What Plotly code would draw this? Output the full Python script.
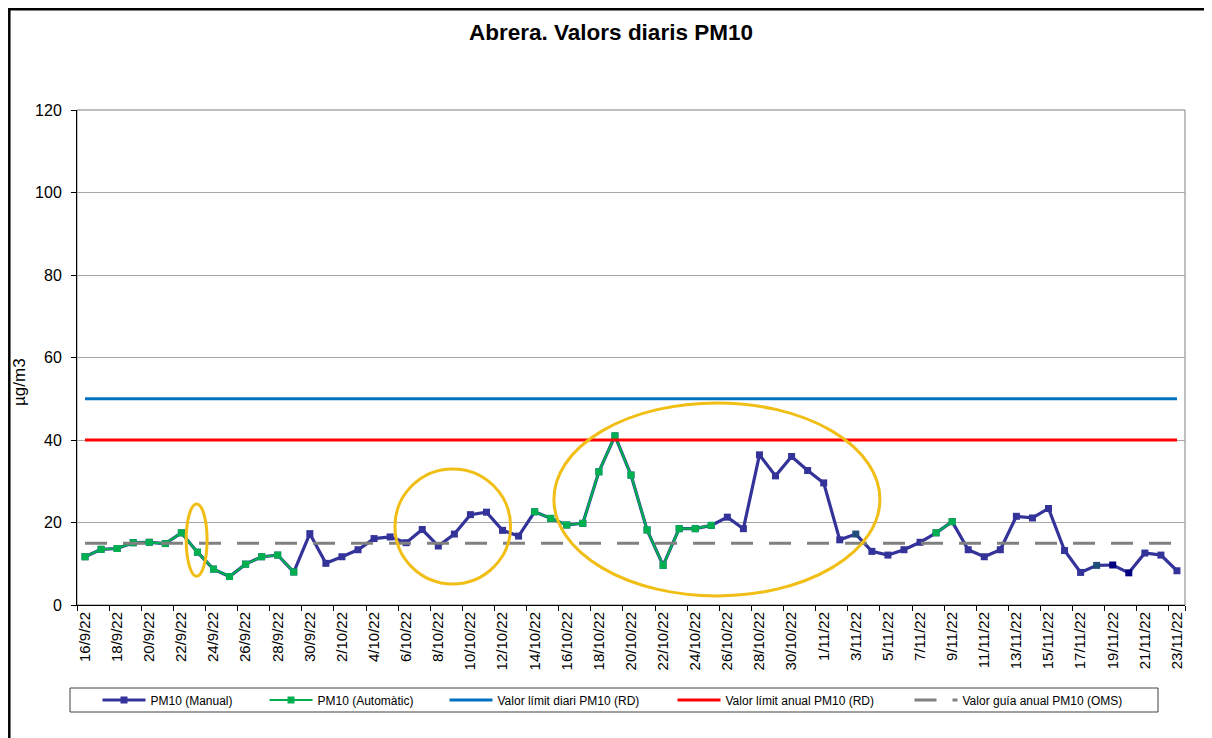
import plotly.graph_objects as go

# ---------------- data ----------------
DATES = [
    "16/9/22", "17/9/22", "18/9/22", "19/9/22", "20/9/22", "21/9/22", "22/9/22", "23/9/22",
    "24/9/22", "25/9/22", "26/9/22", "27/9/22", "28/9/22", "29/9/22", "30/9/22",
    "1/10/22", "2/10/22", "3/10/22", "4/10/22", "5/10/22", "6/10/22", "7/10/22", "8/10/22",
    "9/10/22", "10/10/22", "11/10/22", "12/10/22", "13/10/22", "14/10/22", "15/10/22",
    "16/10/22", "17/10/22", "18/10/22", "19/10/22", "20/10/22", "21/10/22", "22/10/22",
    "23/10/22", "24/10/22", "25/10/22", "26/10/22", "27/10/22", "28/10/22", "29/10/22",
    "30/10/22", "31/10/22",
    "1/11/22", "2/11/22", "3/11/22", "4/11/22", "5/11/22", "6/11/22", "7/11/22", "8/11/22",
    "9/11/22", "10/11/22", "11/11/22", "12/11/22", "13/11/22", "14/11/22", "15/11/22",
    "16/11/22", "17/11/22", "18/11/22", "19/11/22", "20/11/22", "21/11/22", "22/11/22",
    "23/11/22",
]

PM10_MANUAL = [
    11.7, 13.5, 13.7, 15.1, 15.2, 14.9, 17.5, 12.8, 8.7, 6.9, 9.9, 11.7, 12.1, 8.0, 17.3,
    10.1, 11.7, 13.4, 16.1, 16.5, 15.1, 18.3, 14.3, 17.2, 21.9, 22.5, 18.1, 16.7, 22.6, 21.0,
    19.4, 19.8, 32.3, 41.0, 31.5, 18.2, 9.6, 18.5, 18.5, 19.3, 21.3, 18.5, 36.4, 31.3, 36.0,
    32.6,
    29.6, 15.8, 17.2, 13.0, 12.1, 13.4, 15.2, 17.5, 20.2, 13.4, 11.7, 13.4, 21.5, 21.1, 23.4,
    13.2, 7.9, 9.6, 9.7, 7.8, 12.6, 12.1, 8.3,
]

PM10_AUTO = [
    11.7, 13.5, 13.7, 15.1, 15.2, 14.9, 17.5, 12.8, 8.7, 6.9, 9.9, 11.7, 12.1, 8.0, None,
    None, None, None, None, None, None, None, None, None, None, None, None, None, 22.6, 21.0,
    19.4, 19.8, 32.3, 41.0, 31.5, 18.2, 9.6, 18.5, 18.5, 19.3, None, None, None, None, None,
    None,
    None, None, None, None, None, None, None, 17.5, 20.2, None, None, None, None, None, None,
    None, None, None, None, None, None, None, None,
]

LIMIT_DAILY_RD = 50
LIMIT_ANNUAL_RD = 40
GUIDE_ANNUAL_OMS = 15

Y_TICKS = [0, 20, 40, 60, 80, 100, 120]
TITLE = "Abrera. Valors diaris PM10"
Y_TITLE = "µg/m3"
NAMES = [
    "PM10 (Manual)",
    "PM10 (Automàtic)",
    "Valor límit diari PM10 (RD)",
    "Valor límit anual PM10 (RD)",
    "Valor guía anual PM10 (OMS)",
]

# ---------------- layout helpers ----------------
# The page body has an 8px margin, so the figure is drawn 8px in from the
# window corner; all page-pixel positions below are converted accordingly.
OFF = 8
PAGE_W, PAGE_H = 1212, 738
W, H = PAGE_W - OFF, PAGE_H - OFF
# plot area in page pixels
PL, PR, PT, PB = 77, 1185, 110, 605


def px(x):
    return (x - PL) / (PR - PL)


def py(y):
    return (PB - y) / (PB - PT)


FONT = "Arial, 'Liberation Sans', Helvetica, sans-serif"
BLUE = "#333399"
GREEN = "#00B050"

n = len(DATES)
marker_override = {"3/11/22": "#1F4E79", "18/11/22": "#1F4E79",
                   "19/11/22": "#000080", "20/11/22": "#000080"}
manual_marker_colors = [marker_override.get(d, BLUE) for d in DATES]

fig = go.Figure()

fig.add_trace(go.Scatter(
    x=DATES, y=PM10_MANUAL, name=NAMES[0], mode="lines+markers",
    line=dict(color=BLUE, width=3.2),
    marker=dict(symbol="square", size=7, color=manual_marker_colors, line=dict(width=0)),
    legend="legend",
))
fig.add_trace(go.Scatter(
    x=DATES, y=PM10_AUTO, name=NAMES[1], mode="lines+markers",
    line=dict(color=GREEN, width=2.2),
    marker=dict(symbol="square", size=7, color=GREEN, line=dict(width=0)),
    connectgaps=False,
    legend="legend2",
))
fig.add_trace(go.Scatter(
    x=DATES, y=[LIMIT_DAILY_RD] * n, name=NAMES[2], mode="lines",
    line=dict(color="#0070C0", width=3),
    legend="legend3",
))
fig.add_trace(go.Scatter(
    x=DATES, y=[LIMIT_ANNUAL_RD] * n, name=NAMES[3], mode="lines",
    line=dict(color="#FF0000", width=3),
    legend="legend4",
))
fig.add_trace(go.Scatter(
    x=DATES, y=[GUIDE_ANNUAL_OMS] * n, name=NAMES[4], mode="lines",
    line=dict(color="#808080", width=3, dash="22px,16px"),
    legend="legend5",
))

# ---------------- shapes ----------------
shapes = []
# outer chart frame (extends beyond the viewport on right/bottom)
shapes.append(dict(type="rect", xref="paper", yref="paper",
                   x0=px(9.3), x1=px(1240), y0=py(9.3), y1=py(760),
                   line=dict(color="black", width=2.5), layer="above"))
# plot area border
shapes.append(dict(type="rect", xref="paper", yref="paper",
                   x0=0, x1=1, y0=0, y1=1,
                   line=dict(color="#808080", width=1), layer="below"))
# legend box
shapes.append(dict(type="rect", xref="paper", yref="paper",
                   x0=px(70), x1=px(1158), y0=py(688), y1=py(712),
                   line=dict(color="#404040", width=1), layer="above"))
# hand-drawn highlight ellipses (category index, value)
ELLIPSES = [
    (6.3, 7.6, 7.0, 24.5),
    (19.3, 26.5, 5.1, 33.0),
    (29.2, 49.5, 2.2, 49.0),
]
for x0, x1, y0, y1 in ELLIPSES:
    shapes.append(dict(type="circle", xref="x", yref="y",
                       x0=x0, x1=x1, y0=y0, y1=y1,
                       line=dict(color="#F0BE14", width=3), layer="above"))

# ---------------- legends ----------------
LEG_LINE_START = [105, 272, 452, 680, 917]
leg_common = dict(orientation="h", xanchor="left", yanchor="middle",
                  y=py(700), itemwidth=43, bgcolor="rgba(0,0,0,0)", borderwidth=0,
                  font=dict(family=FONT, size=12, color="black"),
                  itemclick=False, itemdoubleclick=False)
legends = {}
for i, xs in enumerate(LEG_LINE_START):
    key = "legend" if i == 0 else f"legend{i + 1}"
    legends[key] = dict(leg_common, x=px(xs - 7.5))

fig.update_layout(
    width=W, height=H,
    margin=dict(l=PL - OFF, r=PAGE_W - PR, t=PT - OFF, b=PAGE_H - PB, pad=0),
    paper_bgcolor="white", plot_bgcolor="white",
    font=dict(family=FONT, color="black"),
    title=dict(text=f"<b>{TITLE}</b>", x=(611 - OFF) / W, xanchor="center",
               y=1 - (32 - OFF) / H, yanchor="middle", xref="container", yref="container",
               font=dict(size=22.5, family=FONT, color="black")),
    showlegend=True,
    shapes=shapes,
    annotations=[dict(text=Y_TITLE, xref="paper", yref="paper",
                      x=px(19), y=py(382), xanchor="center", yanchor="middle",
                      textangle=-90, showarrow=False,
                      font=dict(size=17, family=FONT, color="black"))],
    xaxis=dict(type="category", range=[-0.5, n - 0.5],
               tickmode="array", tickvals=DATES[::2], ticktext=DATES[::2],
               tickson="boundaries", ticks="outside", ticklen=5, tickwidth=1,
               tickcolor="black", tickangle=-90,
               tickfont=dict(size=15, family=FONT, color="black"),
               showgrid=False, showline=True, linecolor="black", linewidth=1,
               zeroline=False, fixedrange=True),
    yaxis=dict(range=[0, 120], tickmode="array", tickvals=Y_TICKS,
               ticks="outside", ticklen=5, tickwidth=1, tickcolor="black",
               ticklabelstandoff=6,
               tickfont=dict(size=16, family=FONT, color="black"),
               showgrid=True, gridcolor="#A6A6A6", gridwidth=1,
               showline=True, linecolor="black", linewidth=1,
               zeroline=False, fixedrange=True),
    **legends,
)

fig.write_html("out.html")
